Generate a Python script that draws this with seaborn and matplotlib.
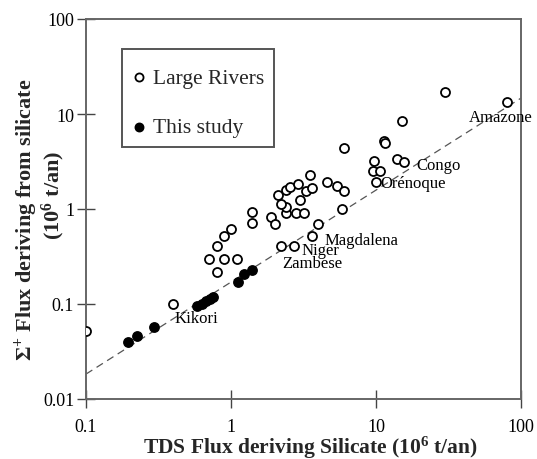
import matplotlib
matplotlib.use("Agg")
import matplotlib.pyplot as plt
import seaborn as sns
import pandas as pd
from matplotlib.patches import Rectangle

# ---- data ----
rivers_x = [0.1, 0.4, 0.8, 0.7, 0.9, 1.1, 0.8, 0.9, 1.0, 1.4, 1.4, 1.9, 2.0, 2.2, 2.7,
            2.4, 2.8, 3.2, 2.4, 2.2, 3.0, 2.1, 2.4, 2.55, 2.9, 3.3, 3.6, 3.5, 4.0, 3.6,
            4.6, 5.4, 6.0, 5.8, 6.0, 9.7, 9.5, 10.7, 10.0, 14.0, 15.6, 11.4, 11.5, 15.0,
            30.0, 80.0]
rivers_y = [0.052, 0.10, 0.215, 0.30, 0.30, 0.30, 0.41, 0.52, 0.62, 0.71, 0.92, 0.82, 0.70,
            0.41, 0.41, 0.91, 0.91, 0.91, 1.04, 1.13, 1.24, 1.40, 1.60, 1.69, 1.83, 1.56,
            1.65, 2.30, 0.70, 0.52, 1.94, 1.73, 1.55, 1.00, 4.40, 3.20, 2.53, 2.53, 1.94,
            3.40, 3.10, 5.20, 4.95, 8.40, 17.2, 13.4]
study_x = [0.196, 0.226, 0.294, 0.586, 0.628, 0.673, 0.717, 0.755, 1.11, 1.22, 1.39]
study_y = [0.0395, 0.0457, 0.057, 0.096, 0.100, 0.108, 0.113, 0.118, 0.169, 0.207, 0.230]
line_x = [0.1, 100]
line_y = [0.0183, 14.7]
river_names = ["Amazone", "Congo", "Orénoque", "Magdalena", "Niger", "Zambese", "Kikori"]
name_x = [72.8, 19.1, 10.7, 4.45, 3.08, 2.25, 0.41]
name_y = [9.75, 3.05, 1.99, 0.50, 0.385, 0.284, 0.075]
name_ha = ["center", "left", "left", "left", "left", "left", "left"]
x_ticks = [0.1, 1, 10, 100]
x_tick_labels = ["0.1", "1", "10", "100"]
y_ticks = [0.01, 0.1, 1, 10, 100]
y_tick_labels = ["0.01", "0.1", "1", "10", "100"]

sns.set_theme(style="white")
plt.rcParams["font.family"] = ["Liberation Serif", "DejaVu Serif"]
plt.rcParams["mathtext.fontset"] = "custom"
plt.rcParams["mathtext.rm"] = "Liberation Serif:bold"
plt.rcParams["mathtext.it"] = "Liberation Serif:bold"
plt.rcParams["mathtext.bf"] = "Liberation Serif:bold"

fig = plt.figure(figsize=(5.37, 4.60), dpi=100)
ax = fig.add_axes([86 / 537, 1 - 400 / 460, 435 / 537, 380 / 460])

rivers = pd.DataFrame({"x": rivers_x, "y": rivers_y})
study = pd.DataFrame({"x": study_x, "y": study_y})

sns.lineplot(x=line_x, y=line_y, ax=ax, color="#555555", lw=0.9,
             linestyle=(0, (6, 4)), zorder=1)
sns.scatterplot(data=rivers, x="x", y="y", ax=ax, marker="o", s=42,
                facecolor="white", edgecolor="black", linewidth=1.3,
                label="Large Rivers", zorder=3)
sns.scatterplot(data=study, x="x", y="y", ax=ax, marker="o", s=46,
                color="black", edgecolor="black", linewidth=1.0,
                label="This study", zorder=3)

ax.set_xscale("log")
ax.set_yscale("log")
ax.set_xlim(0.1, 100)
ax.set_ylim(0.01, 100)
ax.set_xticks(x_ticks)
ax.set_xticklabels(x_tick_labels)
ax.set_yticks(y_ticks)
ax.set_yticklabels(y_tick_labels)
ax.minorticks_off()
ax.tick_params(axis="both", which="major", direction="inout", length=13,
               width=1.0, color="#444444", labelsize=13, labelcolor="black",
               left=True, bottom=True, top=False, right=False)
ax.tick_params(axis="x", pad=7)
ax.tick_params(axis="y", pad=2)
for sp in ax.spines.values():
    sp.set_color("#666666")
    sp.set_linewidth(1.4)
ax.set_xlabel("")
ax.set_ylabel("")

for name, nx, ny, ha in zip(river_names, name_x, name_y, name_ha):
    ax.text(nx, ny, name, ha=ha, va="center_baseline", fontsize=12,
            color="black", clip_on=False, zorder=4)

# legend
leg = ax.legend(loc="upper left", bbox_to_anchor=(0.106, 0.872), frameon=False,
                fontsize=15.5, handlelength=0.6, handletextpad=0.35,
                borderpad=0.0, labelspacing=1.37, markerscale=0.9,
                borderaxespad=0.0)
ax.add_patch(Rectangle(((122 - 86) / 435, (400 - 148) / 380),
                       (274 - 122) / 435, (148 - 50) / 380,
                       transform=ax.transAxes, fill=False, edgecolor="#555555",
                       linewidth=1.4, zorder=5))

fig.text(310 / 537, 1 - 454 / 460,
         "TDS Flux deriving Silicate (10$^{6}$ t/an)",
         ha="center", va="baseline", fontsize=15.5, fontweight="bold")
fig.text(26 / 537, 1 - 220 / 460, "Σ$^{+}$ Flux deriving from silicate",
         ha="center", va="center", rotation=90, fontsize=16, fontweight="bold")
fig.text(53 / 537, 1 - 195 / 460, "(10$^{6}$ t/an)",
         ha="center", va="center", rotation=90, fontsize=16, fontweight="bold")

fig.savefig("out.png", dpi=100)
